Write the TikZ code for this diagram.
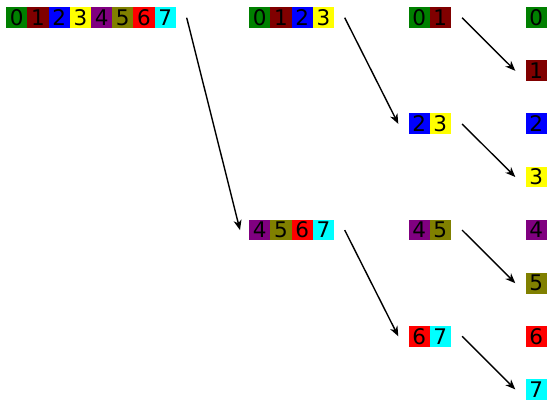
\documentclass[tikz,border=0pt]{standalone}
\usepackage{fontspec}
\setmainfont{DejaVu Sans}
\usetikzlibrary{arrows.meta}
\definecolor{c0}{RGB}{0,128,0}
\definecolor{c1}{RGB}{128,0,0}
\definecolor{c2}{RGB}{0,0,255}
\definecolor{c3}{RGB}{255,255,0}
\definecolor{c4}{RGB}{128,0,128}
\definecolor{c5}{RGB}{128,128,0}
\definecolor{c6}{RGB}{255,0,0}
\definecolor{c7}{RGB}{0,255,255}
\tikzset{
  cell/.style={minimum width=21.2pt, minimum height=20.8pt, inner sep=0pt, anchor=north west,
    font=\fontsize{21.5}{21.5}\selectfont, text=black},
  link/.style={-{Stealth[length=10pt,width=8pt,inset=3pt]}, line width=1.4pt, black}
}
\begin{document}
\begin{tikzpicture}[x=1pt,y=-1pt]
\useasboundingbox (0,0) rectangle (547,401);
% column 0
\foreach \k in {0,...,7}
  \node[cell,fill=c\k] (a\k) at ({6+21.2*\k},7.1) {\k};
% column 1
\foreach \k in {0,...,3}
  \node[cell,fill=c\k] (b\k) at ({249+21.2*\k},7.1) {\k};
\foreach \k in {4,...,7}
  \node[cell,fill=c\k] (b\k) at ({249+21.2*(\k-4)},{7.1+53.1*4}) {\k};
% column 2
\foreach \k in {0,...,7}{
  \pgfmathtruncatemacro\m{mod(\k,2)}
  \pgfmathtruncatemacro\p{\k-\m}
  \node[cell,fill=c\k] (c\k) at ({408.3+21.2*\m},{7.1+53.1*\p}) {\k};
}
% column 3
\foreach \k in {0,...,7}
  \node[cell,fill=c\k] (d\k) at (525.3,{7.1+53.1*\k}) {\k};
% arrows
\draw[link] ([xshift=10.7pt]a7.east) -- ([xshift=-9pt]b4.west);
\draw[link] ([xshift=10.5pt]b3.east) -- ([xshift=-10pt]c2.west);
\draw[link] ([xshift=10.5pt]b7.east) -- ([xshift=-10pt]c6.west);
\draw[link] ([xshift=11pt]c1.east) -- ([xshift=-10pt]d1.west);
\draw[link] ([xshift=11pt]c3.east) -- ([xshift=-10pt]d3.west);
\draw[link] ([xshift=11pt]c5.east) -- ([xshift=-10pt]d5.west);
\draw[link] ([xshift=11pt]c7.east) -- ([xshift=-10pt]d7.west);
\end{tikzpicture}
\end{document}
